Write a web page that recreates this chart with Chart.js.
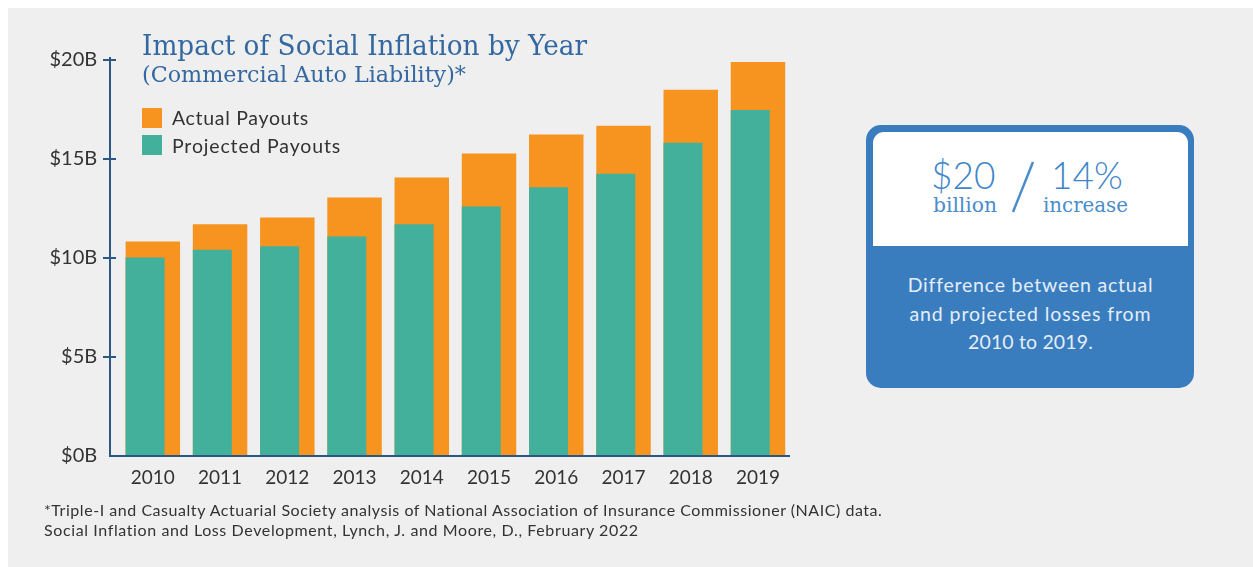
<!DOCTYPE html>
<html>
<head>
<meta charset="utf-8">
<script src="https://cdn.jsdelivr.net/npm/chart.js@4/dist/chart.umd.min.js"></script>
<style>
  html, body { margin:0; padding:0; width:1253px; height:567px; overflow:hidden; background:#ffffff; font-family: Lato, "Open Sans", sans-serif; }
  #panel { position:absolute; left:8px; top:8px; width:1245px; height:559px; background:#efefef; }
  #cv { position:absolute; left:0; top:0; }
  .t { position:absolute; white-space:nowrap; line-height:1; }
  .serif { font-family: "DejaVu Serif", serif; transform-origin: 0 0; }
  #title { left:142px; top:32px; font-size:27px; color:#3468a0; }
  #subtitle { left:142px; top:64px; font-size:22px; color:#3468a0; }
  .lg-box { position:absolute; left:142px; width:20px; height:20px; }
  .lg-txt { left:172px; font-size:19.5px; color:#333; }
  #foot1, #foot2 { left:44px; font-size:16px; color:#333; }
  #box { position:absolute; left:866px; top:125px; width:328px; height:263px; background:#3a7dbf; border-radius:15px; }
  #boxWhite { position:absolute; left:873px; top:132px; width:315px; height:114px; background:#ffffff; border-radius:11px 11px 0 0; }
  .big { font-size:37px; font-weight:300; color:#3f86c8; top:156px; }
  .small { font-size:21px; color:#4a8ccc; }
  .info { font-size:19.5px; color:#e4edf8; }
</style>
</head>
<body>
<div id="panel"></div>
<canvas id="cv" width="1253" height="567"></canvas>

<div id="title" class="t serif">Impact of Social Inflation by Year</div>
<div id="subtitle" class="t serif">(Commercial Auto Liability)*</div>

<div class="lg-box" id="lgA" style="top:108px;"></div>
<div class="t lg-txt" id="lgAt" style="top:107.7px;"></div>
<div class="lg-box" id="lgP" style="top:135px;"></div>
<div class="t lg-txt" id="lgPt" style="top:135.7px;"></div>

<div id="box"></div>
<div id="boxWhite"></div>
<div class="t big" id="n20" style="left:931px;">$20</div>
<div class="t big" id="n14" style="left:1051px;">14%</div>
<div class="t small serif" id="billion" style="left:933px; top:195px;">billion</div>
<div class="t small serif" id="increase" style="left:1043px; top:195px;">increase</div>
<svg style="position:absolute;left:0;top:0;" width="1253" height="567"><line x1="1013" y1="212" x2="1033" y2="162" stroke="#4a8ccc" stroke-width="2.5"/></svg>
<div class="t info" id="info1" style="top:275px;">Difference between actual</div>
<div class="t info" id="info2" style="top:303.5px;">and projected losses from</div>
<div class="t info" id="info3" style="top:332px;">2010 to 2019.</div>

<div id="foot1" class="t" style="top:501.5px;">*Triple-I and Casualty Actuarial Society analysis of National Association of Insurance Commissioner (NAIC) data.</div>
<div id="foot2" class="t" style="top:521.5px;">Social Inflation and Loss Development, Lynch, J. and Moore, D., February 2022</div>

<script>
// ---- data ----
const years = ['2010','2011','2012','2013','2014','2015','2016','2017','2018','2019'];
const actualPayouts = [10.83, 11.7, 12.05, 13.06, 14.07, 15.28, 16.24, 16.68, 18.5, 19.9];
const projectedPayouts = [10.02, 10.42, 10.59, 11.09, 11.7, 12.6, 13.57, 14.26, 15.82, 17.48];
const yTicks = [0, 5, 10, 15, 20];
const seriesNames = ['Actual Payouts', 'Projected Payouts'];
const seriesColors = ['#f6941f', '#43b09b'];

// legend (HTML)
document.getElementById('lgA').style.background = seriesColors[0];
document.getElementById('lgP').style.background = seriesColors[1];
document.getElementById('lgAt').textContent = seriesNames[0];
document.getElementById('lgPt').textContent = seriesNames[1];

// fit serif texts to measured widths
function fitWidth(id, w) {
  const el = document.getElementById(id);
  const cur = el.getBoundingClientRect().width;
  el.style.transform = 'scaleX(' + (w / cur) + ')';
}
// widen sans texts with letter spacing
function fitSpacing(id, w) {
  const el = document.getElementById(id);
  const cur = el.getBoundingClientRect().width;
  const n = el.textContent.length;
  el.style.letterSpacing = ((w - cur) / n) + 'px';
}
// center a text horizontally on x
function centerOn(id, cx) {
  const el = document.getElementById(id);
  const w = el.getBoundingClientRect().width;
  el.style.left = (cx - w / 2) + 'px';
}
fitWidth('title', 445);
fitWidth('subtitle', 324);
fitWidth('billion', 64);
fitWidth('increase', 85);
fitSpacing('lgAt', 137);
fitSpacing('lgPt', 169);
fitSpacing('foot1', 839);
fitSpacing('foot2', 595);
fitSpacing('info1', 245);
fitSpacing('info2', 242);
fitSpacing('info3', 125);
centerOn('info1', 1030.5);
centerOn('info2', 1030.5);
centerOn('info3', 1030.5);

const AXIS_COLOR = '#2a5783';
const Y_AXIS_X = 110;
const X_AXIS_END = 790;

// align projected bars to the left edge of the actual bars
const alignBars = {
  id: 'alignBars',
  afterDatasetsUpdate(chart) {
    const a = chart.getDatasetMeta(0).data;
    const p = chart.getDatasetMeta(1).data;
    for (let i = 0; i < p.length; i++) {
      p[i].x = a[i].x - a[i].width / 2 + p[i].width / 2;
    }
  }
};

const axisLines = {
  id: 'axisLines',
  afterDraw(chart) {
    const { ctx, scales: { y } } = chart;
    ctx.save();
    ctx.strokeStyle = AXIS_COLOR;
    ctx.lineWidth = 2;
    ctx.beginPath();
    ctx.moveTo(Y_AXIS_X, y.getPixelForValue(yTicks[yTicks.length - 1]) - 3);
    ctx.lineTo(Y_AXIS_X, y.getPixelForValue(0));
    ctx.lineTo(X_AXIS_END, y.getPixelForValue(0));
    yTicks.forEach(v => {
      if (v === 0) return;
      const py = y.getPixelForValue(v);
      ctx.moveTo(Y_AXIS_X - 7, py);
      ctx.lineTo(Y_AXIS_X + 6, py);
    });
    ctx.stroke();
    ctx.restore();
  }
};

new Chart(document.getElementById('cv'), {
  type: 'bar',
  data: {
    labels: years,
    datasets: [
      { label: seriesNames[0], data: actualPayouts, backgroundColor: seriesColors[0],
        grouped: false, barPercentage: 0.81, categoryPercentage: 1, order: 1 },
      { label: seriesNames[1], data: projectedPayouts, backgroundColor: seriesColors[1],
        grouped: false, barPercentage: 0.58, categoryPercentage: 1, order: 0 }
    ]
  },
  options: {
    responsive: false,
    animation: false,
    layout: { padding: { left: 0, top: 60, right: 461.4, bottom: 0 } },
    plugins: { legend: { display: false }, tooltip: { enabled: false }, title: { display: false } },
    scales: {
      x: {
        grid: { display: false, drawTicks: false },
        border: { display: false },
        ticks: { color: '#333', font: { family: 'Lato', size: 19 }, padding: 10, maxRotation: 0 },
        afterFit: s => { s.height = 111; }
      },
      y: {
        min: 0, max: 20,
        grid: { display: false, drawTicks: false },
        border: { display: false },
        ticks: { stepSize: 5, color: '#333', font: { family: 'Lato', size: 20 }, padding: 22,
                 callback: v => '$' + v + 'B' },
        afterBuildTicks: s => { s.ticks = yTicks.map(v => ({ value: v })); },
        afterFit: s => { s.width = 119.2; }
      }
    }
  },
  plugins: [alignBars, axisLines]
});
</script>
</body>
</html>
